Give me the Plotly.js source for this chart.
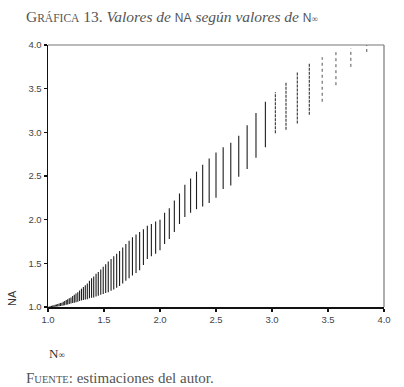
<!DOCTYPE html>
<html>
<head>
<meta charset="utf-8">
<script src="https://cdn.plot.ly/plotly-3.0.1.min.js"></script>
<style>
html,body{margin:0;padding:0;background:#fff;}
#chart{width:404px;height:387px;}
</style>
</head>
<body>
<div id="chart"></div>
<script>
// N-infinity value of each column (x) and the lowest / highest NA read in that column
const nInf = [1.000,1.010,1.020,1.031,1.042,1.053,1.064,1.075,1.087,1.099,1.111,1.124,1.136,1.149,1.163,1.176,1.190,1.205,1.220,1.235,1.250,1.266,1.282,1.299,1.316,1.333,1.351,1.370,1.389,1.408,1.429,1.449,1.471,1.493,1.515,1.538,1.563,1.587,1.613,1.639,1.667,1.695,1.724,1.754,1.786,1.818,1.852,1.887,1.923,1.961,2.000,2.041,2.083,2.128,2.174,2.222,2.273,2.326,2.381,2.439,2.500,2.564,2.632,2.703,2.778,2.857,2.941,3.030,3.125,3.226,3.333,3.448,3.571,3.704,3.846];
const naMax = [1.00,1.005,1.01,1.013,1.017,1.02,1.025,1.03,1.035,1.04,1.045,1.05,1.06,1.07,1.08,1.09,1.10,1.11,1.125,1.14,1.155,1.17,1.19,1.21,1.23,1.25,1.27,1.30,1.33,1.35,1.38,1.40,1.43,1.46,1.49,1.52,1.55,1.58,1.61,1.64,1.68,1.72,1.76,1.80,1.83,1.86,1.89,1.93,1.95,1.98,2.00,2.08,2.13,2.22,2.30,2.40,2.47,2.55,2.63,2.70,2.77,2.83,2.88,2.96,3.08,3.22,3.35,3.46,3.58,3.69,3.79,3.86,3.94,3.96,4.00];
const naMin = [1.00,1.00,1.00,1.00,1.00,1.00,1.003,1.005,1.007,1.01,1.012,1.015,1.018,1.02,1.025,1.03,1.035,1.04,1.045,1.05,1.055,1.06,1.07,1.075,1.08,1.085,1.09,1.10,1.105,1.11,1.12,1.13,1.14,1.15,1.16,1.17,1.185,1.20,1.22,1.24,1.27,1.30,1.33,1.36,1.39,1.42,1.48,1.55,1.58,1.61,1.65,1.72,1.78,1.86,1.95,2.03,2.08,2.12,2.15,2.19,2.25,2.35,2.39,2.49,2.58,2.71,2.83,2.99,3.03,3.10,3.20,3.35,3.54,3.75,3.92];

const xTicks = [1.0,1.5,2.0,2.5,3.0,3.5,4.0];
const yTicks = [1.0,1.5,2.0,2.5,3.0,3.5,4.0];
const tickText = ["1.0","1.5","2.0","2.5","3.0","3.5","4.0"];

function segs(filterFn){
  const xs=[], ys=[];
  nInf.forEach((x,i)=>{
    if(!filterFn(x)) return;
    xs.push(x,x,null); ys.push(naMin[i],naMax[i],null);
  });
  return {xs,ys};
}
const dense = segs(x=>x<3.0);
const mid = segs(x=>x>=3.0 && x<3.4);
const sparse = segs(x=>x>=3.4);

const traces = [
  {x:dense.xs,y:dense.ys,type:'scatter',mode:'lines',line:{color:'#1e1e1e',width:1.1},hoverinfo:'skip',showlegend:false},
  {x:mid.xs,y:mid.ys,type:'scatter',mode:'lines',line:{color:'#333',width:1.1,dash:'3px,1px'},hoverinfo:'skip',showlegend:false},
  {x:sparse.xs,y:sparse.ys,type:'scatter',mode:'lines',line:{color:'#555',width:1,dash:'dot'},hoverinfo:'skip',showlegend:false}
];

const serif = 'Liberation Serif, DejaVu Serif, serif';
const sans = 'Liberation Sans, Arial, sans-serif';

const layout = {
  width:404,height:387,
  margin:{l:48,r:20,t:45,b:80},
  paper_bgcolor:'#fff',plot_bgcolor:'#fff',
  showlegend:false,
  xaxis:{range:[1,4],tickvals:xTicks,ticktext:tickText,showgrid:false,zeroline:false,
    showline:true,linecolor:'#111',linewidth:1.5,mirror:false,
    ticks:'outside',ticklen:3,tickwidth:1.5,tickcolor:'#111',
    tickfont:{family:sans,size:9.5,color:'#444'}},
  yaxis:{range:[1,4],tickvals:yTicks,ticktext:tickText,showgrid:false,zeroline:false,
    showline:true,linecolor:'#111',linewidth:1.5,mirror:false,
    ticks:'outside',ticklen:3,tickwidth:1.5,tickcolor:'#111',
    tickfont:{family:sans,size:9.5,color:'#444'}},
  shapes:[
    {type:'line',xref:'paper',yref:'paper',x0:0,x1:1,y0:1,y1:1,line:{color:'#777',width:1.2}},
    {type:'line',xref:'paper',yref:'paper',x0:1,x1:1,y0:0,y1:1,line:{color:'#777',width:1.2}}
  ]
};
// place texts in pixel-like paper coordinates
const plotW = 404-48-20, plotH = 387-45-80;
function px(xp){return (xp-48)/plotW;}
function py(yp){return (387-80-yp)/plotH;}
layout.annotations = [
  {xref:'paper',yref:'paper',x:px(24),y:py(16),xanchor:'left',yanchor:'middle',showarrow:false,
   text:'G<span style="font-size:11.5px">RÁFICA</span> 13. <i>Valores de </i><span style="font-family:Liberation Sans,Arial,sans-serif;font-size:12px">NA</span><i> según valores de </i><span style="font-family:Liberation Sans,Arial,sans-serif;font-size:12px">N</span><span style="font-size:9px">∞</span>',
   font:{family:serif,size:15.5,color:'#555'}},
  {xref:'paper',yref:'paper',x:px(12),y:py(298),xanchor:'center',yanchor:'middle',showarrow:false,textangle:-90,
   text:'NA',font:{family:sans,size:11,color:'#333'}},
  {xref:'paper',yref:'paper',x:px(47),y:py(353),xanchor:'left',yanchor:'middle',showarrow:false,
   text:'N<span style="font-size:9px">∞</span>',font:{family:serif,size:13,color:'#333'}},
  {xref:'paper',yref:'paper',x:px(24),y:py(378),xanchor:'left',yanchor:'middle',showarrow:false,
   text:'F<span style="font-size:10.5px">UENTE</span>: estimaciones del autor.',font:{family:serif,size:15,color:'#555'}}
];

Plotly.newPlot('chart',traces,layout,{staticPlot:true,displayModeBar:false});
</script>
</body>
</html>
